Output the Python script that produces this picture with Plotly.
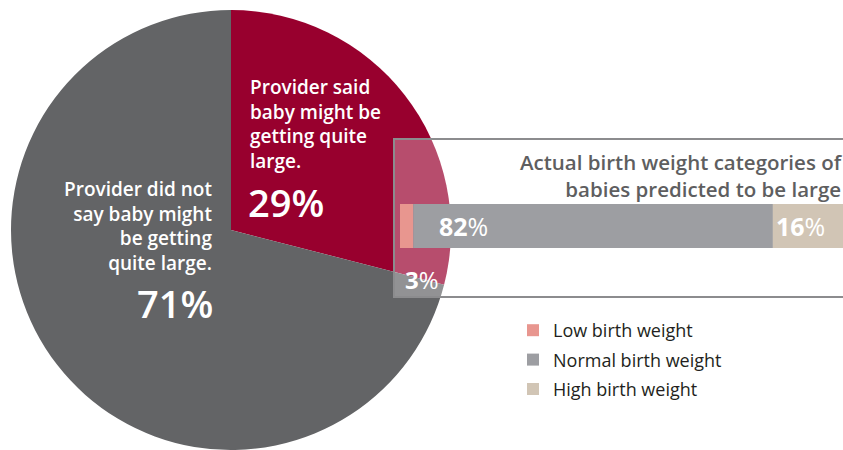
import plotly.graph_objects as go

# pie: did the provider say the baby might be getting quite large?
pie_labels = ["Provider said baby might be getting quite large.",
              "Provider did not say baby might be getting quite large."]
pie_values = [29, 71]
pie_colors = ["#98002e", "#636466"]

# stacked bar: actual birth weight of babies predicted to be large
bw_names = ["Low birth weight", "Normal birth weight", "High birth weight"]
bw_values = [3, 82, 16]
bw_colors = ["#e8968f", "#9d9ea2", "#d1c5b5"]

W, H = 843, 450
FONT = "Open Sans"

fig = go.Figure()

fig.add_trace(go.Pie(
    labels=pie_labels, values=pie_values, sort=False, direction="clockwise",
    marker=dict(colors=pie_colors, line=dict(width=0)),
    textinfo="none", hoverinfo="label+percent", showlegend=False,
    domain=dict(x=[11 / W, 451 / W], y=[0, 440 / H]),
))

# bar traces (also give the legend); copies drawn as shapes on top of the pie
for name, val, col in zip(bw_names, bw_values, bw_colors):
    fig.add_trace(go.Bar(
        y=["large"], x=[val], name=name, orientation="h",
        marker=dict(color=col, line=dict(width=0)), legendgroup=name,
    ))

# translucent white panel over the pie
fig.add_shape(type="rect", xref="paper", yref="paper",
              x0=394 / W, x1=1.02, y0=1 - 297 / H, y1=1 - 139 / H,
              fillcolor="rgba(255,255,255,0.3)", line=dict(color="#8c8c8e", width=2),
              layer="above")

starts = []
acc = 0
for val in bw_values:
    starts.append(acc)
    acc += val
for s, val, col in zip(starts, bw_values, bw_colors):
    fig.add_shape(type="rect", xref="x", yref="y domain", x0=s, x1=s + val, y0=0, y1=1,
                  fillcolor=col, line=dict(width=0), layer="above")

ann = []
# bar value labels
ann.append(dict(x=starts[1], y=0, xref="x", yref="y", xanchor="left", xshift=24,
                text="<b>%d</b>%%" % bw_values[1], showarrow=False,
                font=dict(family=FONT, size=25, color="white")))
ann.append(dict(x=starts[2], y=0, xref="x", yref="y", xanchor="left", xshift=1,
                text="<b>%d</b>%%" % bw_values[2], showarrow=False,
                font=dict(family=FONT, size=25, color="white")))
ann.append(dict(x=starts[0], y=1 - 279 / H, xref="x", yref="paper", xanchor="left", xshift=3,
                text="<b>%d</b>%%" % bw_values[0], showarrow=False,
                font=dict(family=FONT, size=24, color="white")))
# bar title
ann.append(dict(x=1, y=1 - 146 / H, xref="paper", yref="paper", xanchor="right", yanchor="top",
                xshift=2, align="right", showarrow=False,
                text="Actual birth weight categories of<br>babies predicted to be large",
                font=dict(family=FONT, size=20.5, color="#5e5e60", weight=600)))
# pie labels
ann.append(dict(x=248 / W, y=1 - 72 / H, xref="paper", yref="paper", xanchor="left", yanchor="top",
                align="left", showarrow=False,
                text="Provider said<br>baby might be<br>getting quite<br>large.",
                font=dict(family=FONT, size=19, color="white", weight=600)))
ann.append(dict(x=246 / W, y=1 - 202 / H, xref="paper", yref="paper", xanchor="left", yanchor="middle",
                showarrow=False, text="%d%%" % pie_values[0],
                font=dict(family=FONT, size=38, color="white", weight=600)))
ann.append(dict(x=214 / W, y=1 - 174 / H, xref="paper", yref="paper", xanchor="right", yanchor="top",
                align="right", showarrow=False,
                text="Provider did not<br>say baby might<br>be getting<br>quite large.",
                font=dict(family=FONT, size=19, color="white", weight=600)))
ann.append(dict(x=215 / W, y=1 - 303 / H, xref="paper", yref="paper", xanchor="right", yanchor="middle",
                showarrow=False, text="%d%%" % pie_values[1],
                font=dict(family=FONT, size=38, color="white", weight=600)))

fig.update_layout(
    width=W, height=H, margin=dict(l=0, r=0, t=0, b=0),
    paper_bgcolor="white", plot_bgcolor="rgba(0,0,0,0)",
    barmode="stack", bargap=0,
    xaxis=dict(domain=[400 / W, 1], range=[0, sum(bw_values)], visible=False, fixedrange=True),
    yaxis=dict(domain=[1 - 248 / H, 1 - 204 / H], visible=False, fixedrange=True),
    legend=dict(x=513 / W, y=1 - 312 / H, xanchor="left", yanchor="top",
                traceorder="grouped", tracegroupgap=3, bgcolor="rgba(0,0,0,0)",
                font=dict(family=FONT, size=18, color="#231f20")),
    annotations=ann,
    font=dict(family=FONT),
)

fig.write_html("out.html", config={"displayModeBar": False},
               post_script="document.body.style.margin='0';")
